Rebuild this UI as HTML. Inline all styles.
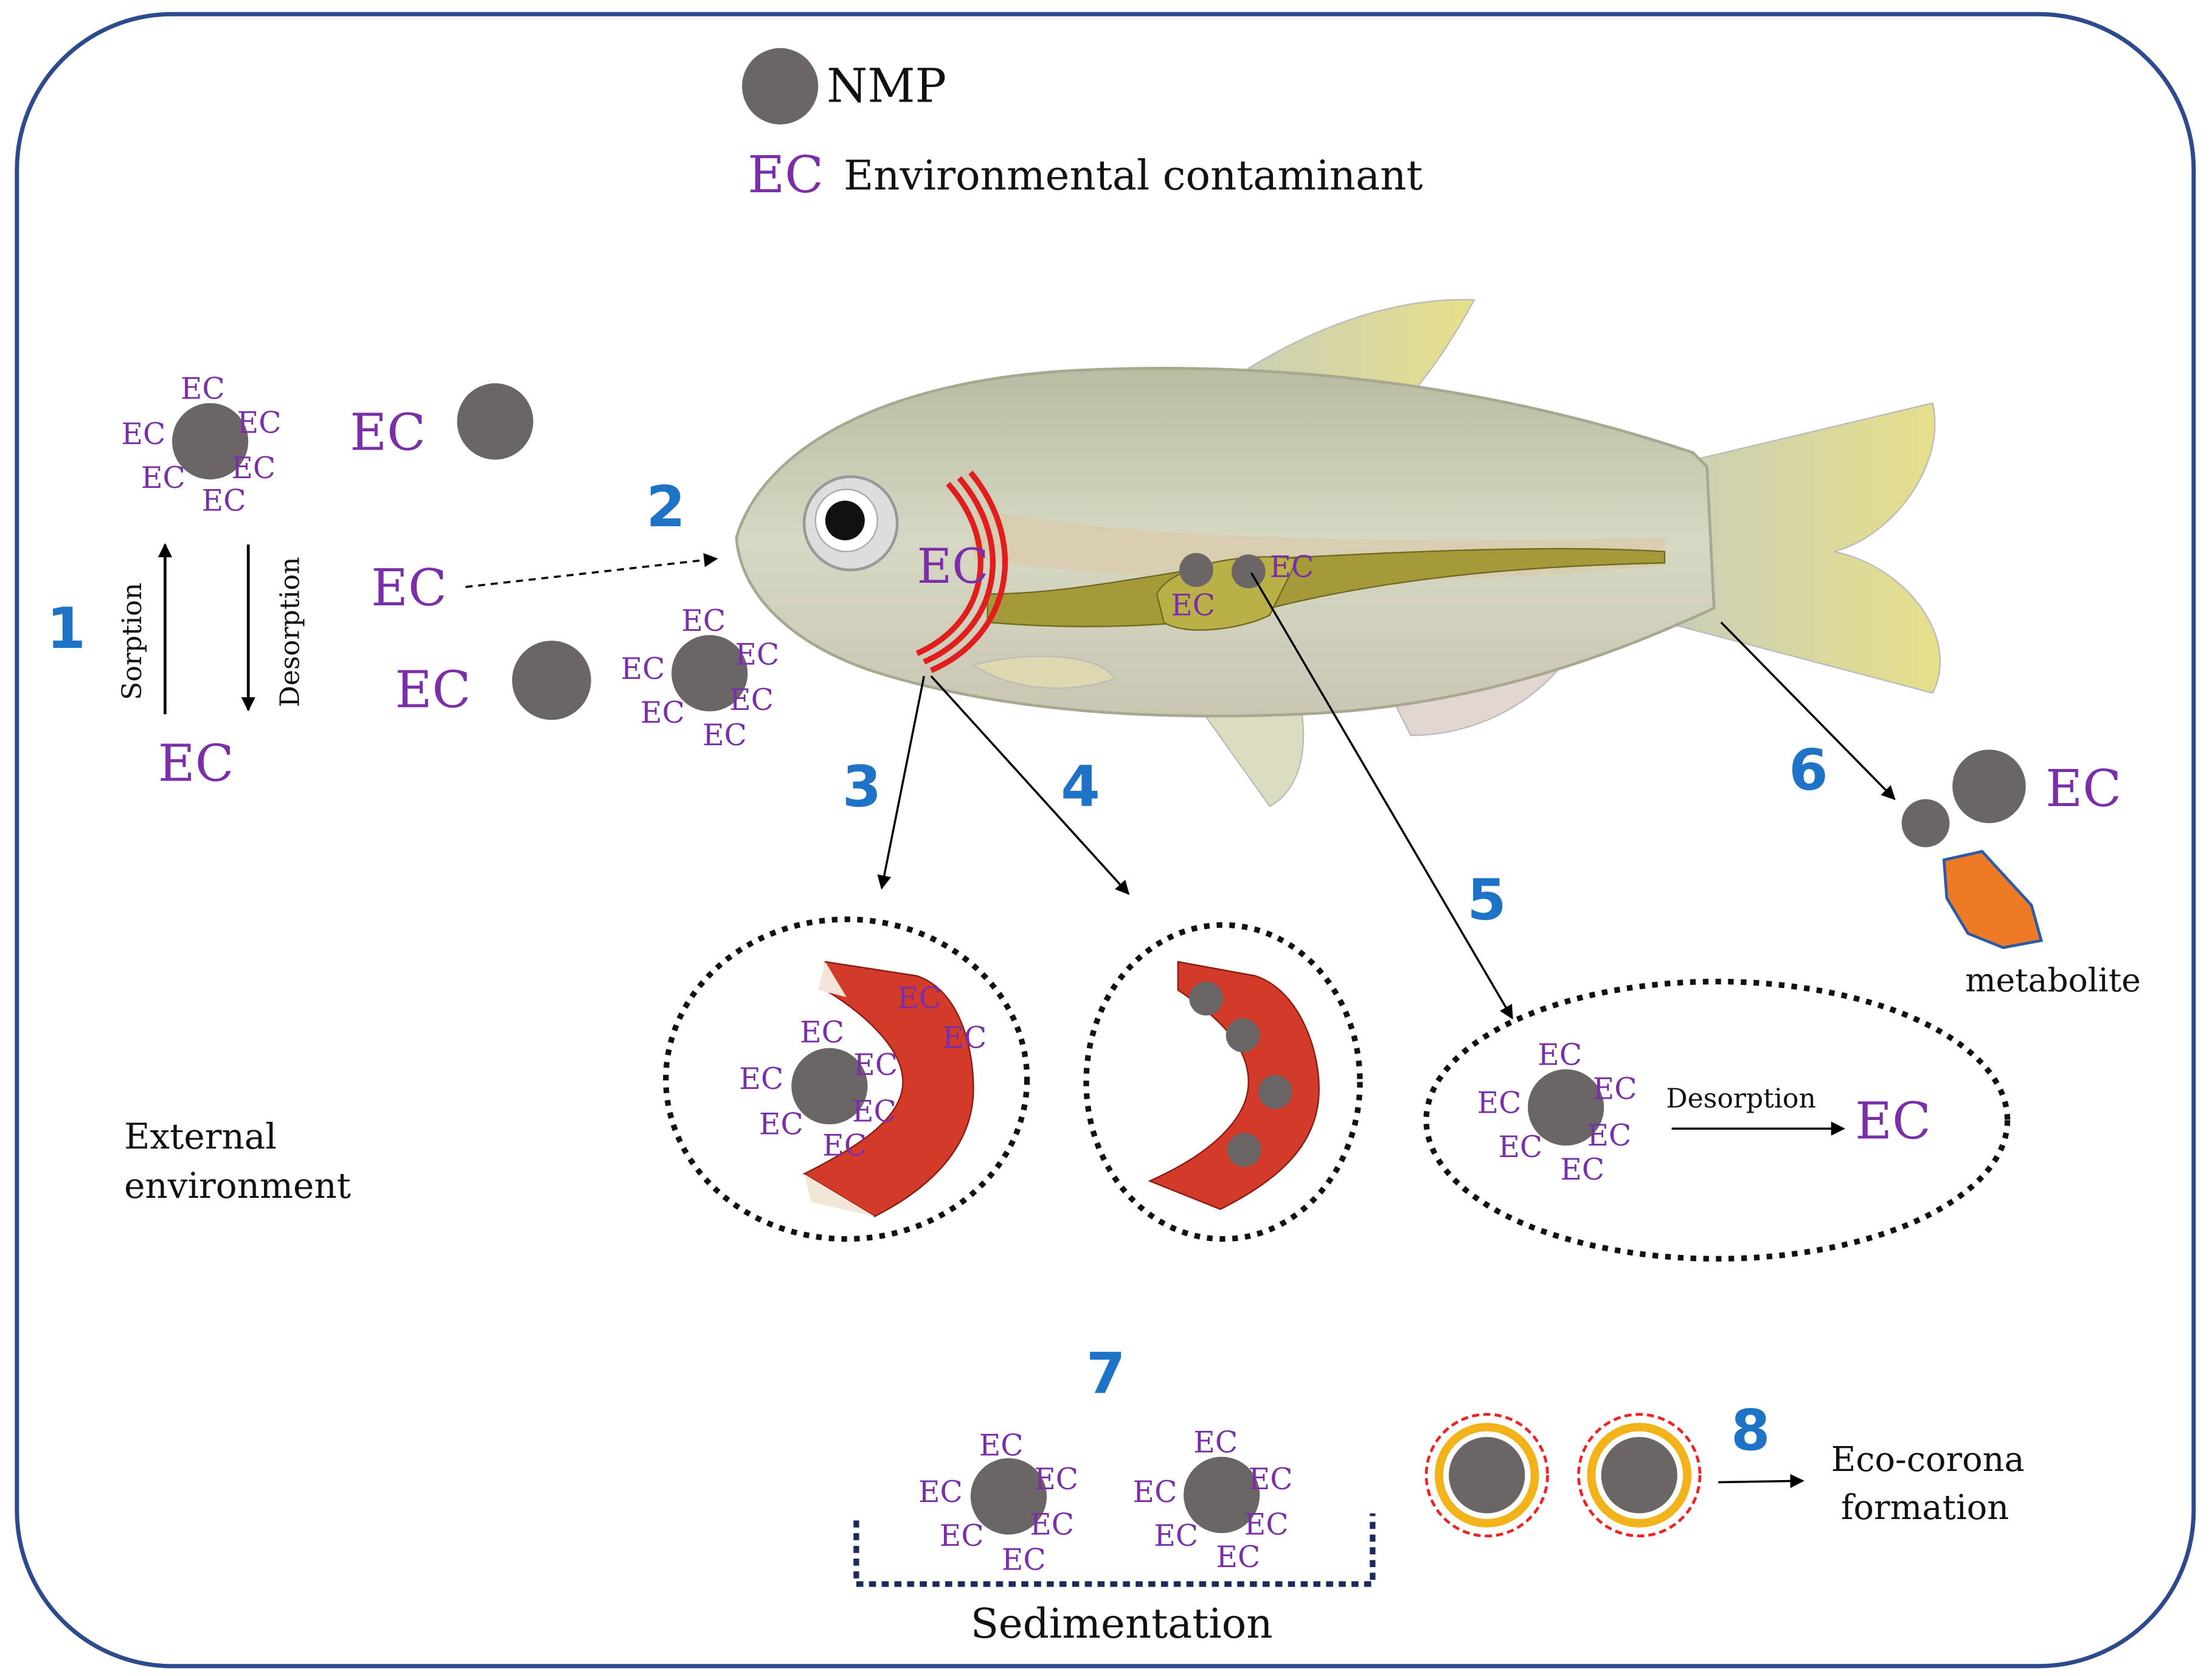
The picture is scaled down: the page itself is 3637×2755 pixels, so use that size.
<!DOCTYPE html>
<html><head><meta charset="utf-8"><style>
html,body{margin:0;padding:0;background:#fff;}
svg{display:block;}
.ec{font-family:"DejaVu Serif","Liberation Serif",serif;fill:#7a2fa8;}
.t{font-family:"DejaVu Serif","Liberation Serif",serif;fill:#111;}
.n{font-family:"DejaVu Sans","Liberation Sans",sans-serif;font-weight:bold;fill:#1f73c6;}
</style></head><body>
<svg width="3637" height="2755" viewBox="0 0 1568 1185" preserveAspectRatio="none" xmlns="http://www.w3.org/2000/svg">
<defs>
<marker id="ar" markerWidth="10" markerHeight="10" refX="9" refY="5" orient="auto" markerUnits="userSpaceOnUse"><path d="M0,0 L10,5 L0,10 z" fill="#000"/></marker>
<linearGradient id="body" x1="0" y1="0" x2="0" y2="1"><stop offset="0" stop-color="#b9bca0"/><stop offset="0.5" stop-color="#d6d8c4"/><stop offset="1" stop-color="#c9c6b2"/></linearGradient>
<linearGradient id="fin" x1="0" y1="0" x2="1" y2="0"><stop offset="0" stop-color="#c9cdb9"/><stop offset="1" stop-color="#e6e08a"/></linearGradient>
</defs>
<rect x="12" y="10" width="1543" height="1168" rx="110" fill="#fff" stroke="#2e4a8f" stroke-width="3"/>
<circle cx="553" cy="61" r="27" fill="#6b6666"/>
<text x="586" y="72" class="t" font-size="33">NMP</text>
<text x="530" y="136" class="ec" font-size="36">EC</text>
<text x="598" y="134" class="t" font-size="29">Environmental contaminant</text>
<path d="M870,270 C930,230 990,210 1045,212 C1030,240 1010,270 990,290 Z" fill="url(#fin)" stroke="#bbb"/>
<path d="M1180,330 L1370,285 C1380,330 1340,380 1300,390 C1350,400 1390,450 1370,490 L1180,440 Z" fill="url(#fin)" stroke="#bbb"/>
<path d="M850,500 L920,490 C930,530 920,560 900,570 Z" fill="#dcdcc0" stroke="#bbb"/>
<path d="M980,480 C1050,470 1100,450 1130,420 C1120,480 1060,520 1000,520 Z" fill="#e2d7d0" stroke="#bbb"/>
<path d="M1100,315 L1130,300 L1140,330 Z" fill="#c0c0b0"/>
<path d="M522,380 C540,320 620,270 760,262 C900,255 1050,270 1200,320 L1210,330 L1215,430 C1150,460 1050,500 920,505 C800,510 700,500 620,475 C560,455 525,420 522,380 Z" fill="url(#body)" stroke="#a8a890" stroke-width="2"/>
<path d="M690,360 C800,380 950,385 1180,380 L1180,400 C950,420 800,410 690,395 Z" fill="#d9c9a8" opacity="0.7"/>
<path d="M700,420 C760,420 820,405 900,395 C1000,390 1100,385 1180,390 L1180,398 C1100,400 1000,405 900,430 C840,445 760,445 700,440 Z" fill="#a59a3a" stroke="#6f6a20"/>
<path d="M820,420 C830,400 880,390 920,395 L900,435 C880,445 840,450 825,440 Z" fill="#bab048" stroke="#6f6a20"/>
<path d="M690,470 C730,460 780,462 790,480 C760,490 720,490 690,470 Z" fill="#ddd8b0" stroke="#bbb"/>
<circle cx="603" cy="370" r="33" fill="#ddd" stroke="#999" stroke-width="2"/>
<circle cx="600" cy="368" r="22" fill="#fff" stroke="#aaa"/>
<circle cx="599" cy="368" r="14" fill="#111"/>
<path d="M672,342 C710,385 700,440 650,462" fill="none" stroke="#e21d1d" stroke-width="4"/>
<path d="M680,338 C720,385 708,445 655,468" fill="none" stroke="#e21d1d" stroke-width="4"/>
<path d="M688,334 C730,385 716,450 660,474" fill="none" stroke="#e21d1d" stroke-width="4"/>
<text x="650" y="412" class="ec" font-size="34">EC</text>
<circle cx="848" cy="403" r="12" fill="#6b6666"/><circle cx="885" cy="404" r="12" fill="#6b6666"/>
<text x="900" y="408" class="ec" font-size="21">EC</text><text x="830" y="435" class="ec" font-size="21">EC</text>
<circle cx="149" cy="312" r="27" fill="#6b6666"/>
<g class="ec" font-size="21"><text x="128" y="282">EC</text><text x="86" y="314">EC</text><text x="168" y="306">EC</text><text x="100" y="345">EC</text><text x="164" y="338">EC</text><text x="143" y="361">EC</text></g>
<line x1="117" y1="505" x2="117" y2="385" stroke="#000" stroke-width="2" marker-end="url(#ar)"/>
<line x1="176" y1="385" x2="176" y2="502" stroke="#000" stroke-width="2" marker-end="url(#ar)"/>
<text transform="translate(100,495) rotate(-90)" class="t" font-size="19">Sorption</text>
<text transform="translate(212,500) rotate(-90)" class="t" font-size="19">Desorption</text>
<text x="112" y="552" class="ec" font-size="36">EC</text>
<text x="33" y="458" class="n" font-size="40">1</text>
<text x="248" y="318" class="ec" font-size="36">EC</text><circle cx="351" cy="298" r="27" fill="#6b6666"/>
<text x="263" y="428" class="ec" font-size="36">EC</text>
<line x1="330" y1="415" x2="508" y2="395" stroke="#000" stroke-width="1.5" stroke-dasharray="5,4" marker-end="url(#ar)"/>
<text x="458" y="372" class="n" font-size="40">2</text>
<text x="280" y="500" class="ec" font-size="36">EC</text><circle cx="391" cy="481" r="28" fill="#6b6666"/>
<circle cx="503" cy="476" r="27" fill="#6b6666"/>
<g class="ec" font-size="21"><text x="483" y="446">EC</text><text x="440" y="480">EC</text><text x="521" y="470">EC</text><text x="454" y="511">EC</text><text x="517" y="502">EC</text><text x="498" y="527">EC</text></g>
<line x1="655" y1="478" x2="625" y2="628" stroke="#000" stroke-width="1.5" marker-end="url(#ar)"/>
<line x1="660" y1="478" x2="800" y2="632" stroke="#000" stroke-width="1.5" marker-end="url(#ar)"/>
<line x1="887" y1="405" x2="1072" y2="720" stroke="#000" stroke-width="1.5" marker-end="url(#ar)"/>
<line x1="1220" y1="440" x2="1343" y2="565" stroke="#000" stroke-width="1.5" marker-end="url(#ar)"/>
<text x="597" y="570" class="n" font-size="40">3</text>
<text x="752" y="570" class="n" font-size="40">4</text>
<text x="1040" y="650" class="n" font-size="40">5</text>
<text x="1268" y="558" class="n" font-size="40">6</text>
<ellipse cx="600" cy="763" rx="128" ry="113" fill="none" stroke="#111" stroke-width="4" stroke-dasharray="4,5"/>
<path d="M585,680 L650,690 C680,700 690,740 690,770 C690,810 660,840 620,860 L570,830 C610,810 640,790 640,765 C640,740 610,715 585,700 Z" fill="#d23a2a" stroke="#8a1a10"/>
<path d="M570,830 L620,860 L575,850 Z M585,680 L580,700 L600,705 Z" fill="#f3e6d8"/>
<circle cx="588" cy="768" r="27" fill="#6b6666"/>
<g class="ec" font-size="21"><text x="636" y="713">EC</text><text x="668" y="741">EC</text><text x="567" y="737">EC</text><text x="605" y="760">EC</text><text x="524" y="770">EC</text><text x="604" y="793">EC</text><text x="538" y="802">EC</text><text x="583" y="817">EC</text></g>
<ellipse cx="867" cy="765" rx="97" ry="111" fill="none" stroke="#111" stroke-width="4" stroke-dasharray="4,5"/>
<path d="M835,680 L890,690 C920,700 935,740 935,770 C935,810 905,835 865,855 L815,835 C860,815 885,790 885,765 C885,740 865,720 835,700 Z" fill="#d23a2a" stroke="#8a1a10"/>
<circle cx="855" cy="706" r="12" fill="#6b6666"/><circle cx="881" cy="732" r="12" fill="#6b6666"/><circle cx="904" cy="772" r="12" fill="#6b6666"/><circle cx="882" cy="813" r="12" fill="#6b6666"/>
<ellipse cx="1217" cy="792" rx="206" ry="98" fill="none" stroke="#111" stroke-width="4" stroke-dasharray="4,5"/>
<circle cx="1110" cy="783" r="27" fill="#6b6666"/>
<g class="ec" font-size="21"><text x="1090" y="753">EC</text><text x="1047" y="787">EC</text><text x="1129" y="777">EC</text><text x="1062" y="818">EC</text><text x="1125" y="810">EC</text><text x="1106" y="834">EC</text></g>
<text x="1181" y="783" class="t" font-size="19">Desorption</text>
<line x1="1185" y1="798" x2="1307" y2="798" stroke="#000" stroke-width="1.5" marker-end="url(#ar)"/>
<text x="1315" y="805" class="ec" font-size="36">EC</text>
<circle cx="1410" cy="556" r="26" fill="#6b6666"/><circle cx="1365" cy="582" r="17" fill="#6b6666"/>
<text x="1450" y="570" class="ec" font-size="36">EC</text>
<path d="M1378,608 L1405,602 L1440,640 L1447,665 L1420,670 L1395,660 L1380,635 Z" fill="#ef7a26" stroke="#2b5aa8" stroke-width="2"/>
<text x="1393" y="701" class="t" font-size="23">metabolite</text>
<text x="88" y="812" class="t" font-size="25">External</text>
<text x="88" y="847" class="t" font-size="25">environment</text>
<text x="770" y="985" class="n" font-size="40">7</text>
<path d="M607,1075 L607,1120 L973,1120 L973,1070" fill="none" stroke="#1c2a5c" stroke-width="4" stroke-dasharray="5,4"/>
<circle cx="715" cy="1058" r="27" fill="#6b6666"/><circle cx="866" cy="1057" r="27" fill="#6b6666"/>
<g class="ec" font-size="21"><text x="694" y="1029">EC</text><text x="651" y="1062">EC</text><text x="733" y="1053">EC</text><text x="666" y="1093">EC</text><text x="730" y="1085">EC</text><text x="710" y="1110">EC</text>
<text x="846" y="1027">EC</text><text x="803" y="1062">EC</text><text x="885" y="1053">EC</text><text x="818" y="1093">EC</text><text x="882" y="1085">EC</text><text x="862" y="1108">EC</text></g>
<text x="688" y="1158" class="t" font-size="29">Sedimentation</text>
<g><circle cx="1054" cy="1043" r="43" fill="#fff" stroke="#e22" stroke-width="2" stroke-dasharray="5,3"/><circle cx="1054" cy="1043" r="34" fill="none" stroke="#f2b21a" stroke-width="6"/><circle cx="1054" cy="1043" r="27" fill="#6b6666"/></g>
<g><circle cx="1162" cy="1043" r="43" fill="#fff" stroke="#e22" stroke-width="2" stroke-dasharray="5,3"/><circle cx="1162" cy="1043" r="34" fill="none" stroke="#f2b21a" stroke-width="6"/><circle cx="1162" cy="1043" r="27" fill="#6b6666"/></g>
<text x="1227" y="1025" class="n" font-size="40">8</text>
<line x1="1218" y1="1048" x2="1278" y2="1047" stroke="#000" stroke-width="1.5" marker-end="url(#ar)"/>
<text x="1298" y="1040" class="t" font-size="24">Eco-corona</text>
<text x="1305" y="1074" class="t" font-size="24">formation</text>
</svg>
</body></html>
